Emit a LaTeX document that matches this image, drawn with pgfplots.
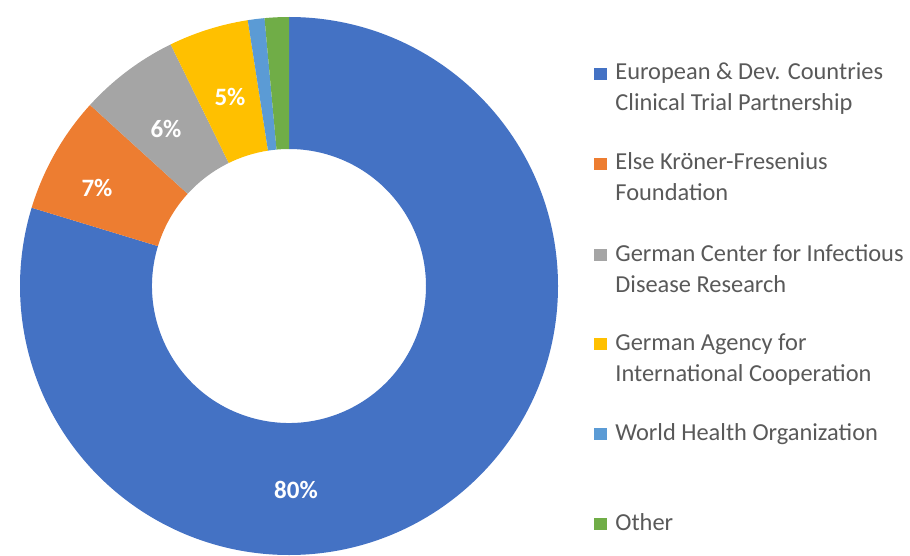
\documentclass[border=0pt]{standalone}
\usepackage{fontspec}
\setmainfont{Carlito}
\usepackage{pgfplots}
\pgfplotsset{compat=1.18}
\definecolor{cA}{HTML}{4472C4}
\definecolor{cB}{HTML}{ED7D31}
\definecolor{cC}{HTML}{A5A5A5}
\definecolor{cD}{HTML}{FFC000}
\definecolor{cE}{HTML}{5B9BD5}
\definecolor{cF}{HTML}{70AD47}
\definecolor{legtext}{HTML}{595959}
% shares (percent), clockwise from 12 o'clock
\def\vA{79.7}
\def\vB{7.05}
\def\vC{6.0}
\def\vD{4.8}
\def\vE{1.0}
\def\vF{1.45}
\pgfmathsetmacro\aA{90}
\pgfmathsetmacro\aB{\aA-3.6*\vA}
\pgfmathsetmacro\aC{\aB-3.6*\vB}
\pgfmathsetmacro\aD{\aC-3.6*\vC}
\pgfmathsetmacro\aE{\aD-3.6*\vD}
\pgfmathsetmacro\aF{\aE-3.6*\vE}
\pgfmathsetmacro\aG{\aF-3.6*\vF}
% outer radius 269 units, inner 137 units (1 unit = 0.5pt)
\newcommand\donutwedge[3]{%
  \fill[#1] (axis cs:289,269) ++(#2:134.5pt) arc[start angle=#2,end angle=#3,radius=134.5pt]
    -- ++(#3+180:66pt) arc[start angle=#3,end angle=#2,radius=68.5pt] -- cycle;}
\newcommand\legsq[2]{%
  \fill[#1] (axis cs:594,#2) rectangle (axis cs:607,#2+12);}
\begin{document}
\begin{tikzpicture}
\begin{axis}[
  width=455pt, height=277.5pt, scale only axis,
  xmin=0, xmax=910, ymin=0, ymax=555,
  hide axis, clip=false]
\path (axis cs:0,0) rectangle (axis cs:910,555);
\donutwedge{cA}{\aA}{\aB}
\donutwedge{cB}{\aB}{\aC}
\donutwedge{cC}{\aC}{\aD}
\donutwedge{cD}{\aD}{\aE}
\donutwedge{cE}{\aE}{\aF}
\donutwedge{cF}{\aF}{\aG}
% data labels
\begin{scope}[every node/.style={text=white, font=\fontsize{12.5}{15}\selectfont\bfseries}]
\node at (axis cs:296,65) {80\%};
\node at (axis cs:97,367) {7\%};
\node at (axis cs:166,426) {6\%};
\node at (axis cs:230,458) {5\%};
\end{scope}
% legend
\legsq{cA}{475}
\legsq{cB}{385}
\legsq{cC}{294}
\legsq{cD}{205}
\legsq{cE}{115}
\legsq{cF}{25}
\begin{scope}[every node/.style={anchor=base west, inner sep=0pt, text=legtext, font=\fontsize{12.2}{14}\selectfont}]
\node at (axis cs:615,475) {European \& Dev. Countries};
\node at (axis cs:615,444) {Clinical Trial Partnership};
\node at (axis cs:615,385) {Else Kröner-Fresenius};
\node at (axis cs:615,354) {Foundation};
\node at (axis cs:615,294) {German Center for Infectious};
\node at (axis cs:615,263) {Disease Research};
\node at (axis cs:615,205) {German Agency for};
\node at (axis cs:615,174) {International Cooperation};
\node at (axis cs:615,115) {World Health Organization};
\node at (axis cs:615,25) {Other};
\end{scope}
\end{axis}
\end{tikzpicture}
\end{document}
